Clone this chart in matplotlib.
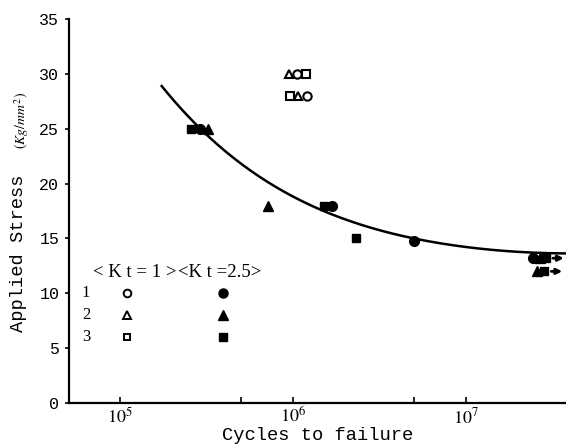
import numpy as np
import matplotlib
matplotlib.use("Agg")
import matplotlib.pyplot as plt
from matplotlib.ticker import FixedLocator, NullFormatter

plt.rcParams['mathtext.fontset'] = 'stix'

# Kt = 2.5 specimens (filled markers): 1 circle, 2 triangle, 3 square
k25_circle_cycles = [2.9e5, 1.69e6, 5.0e6, 2.45e7]
k25_circle_stress = [25.0, 18.0, 14.8, 13.2]
k25_tri_cycles = [3.23e5, 7.2e5, 2.68e7, 2.57e7]
k25_tri_stress = [25.0, 18.0, 13.2, 12.0]
k25_sq_cycles = [2.56e5, 1.5e6, 2.31e6, 2.89e7, 2.83e7]
k25_sq_stress = [25.0, 18.0, 15.0, 13.2, 12.0]

# Kt = 1 specimens (open markers)
k1_circle_cycles = [1.06e6, 1.20e6]
k1_circle_stress = [30.0, 28.0]
k1_tri_cycles = [9.5e5, 1.07e6]
k1_tri_stress = [30.0, 28.0]
k1_sq_cycles = [1.19e6, 9.6e5]
k1_sq_stress = [30.0, 28.0]

# run-outs (no failure)
runout_cycles = [2.89e7, 2.83e7]
runout_stress = [13.2, 12.0]

# S-N curve
curve_cycles = [1.74e5, 2.32e5, 2.9e5, 4.52e5, 7.05e5, 1.03e6, 1.50e6,
                2.33e6, 3.64e6, 4.95e6, 1.05e7, 1.64e7, 2.34e7, 3.78e7]
curve_stress = [29.07, 26.48, 24.86, 22.21, 20.38, 18.83, 17.80,
                16.12, 15.36, 14.90, 14.29, 13.99, 13.68, 13.60]

row_labels = ['1', '2', '3']
kt_labels = ['< K t = 1 >', '<K t =2.5>']


def main():
    fig = plt.figure(figsize=(5.66, 4.47), dpi=100)
    ax = fig.add_axes([0.122, 0.0984, 0.878, 0.8591])

    # smooth fit through the read-off curve (poly in log N)
    logn = np.log10(curve_cycles)
    fit = np.poly1d(np.polyfit(logn, curve_stress, 4))
    xs = np.linspace(logn[0], logn[-1], 200)
    ax.plot(10 ** xs, fit(xs), color='k', lw=1.8, zorder=2)

    ms = 7
    ax.plot(k25_circle_cycles, k25_circle_stress, 'o', color='k', ms=ms, zorder=3)
    ax.plot(k25_tri_cycles, k25_tri_stress, '^', color='k', ms=ms, zorder=3)
    ax.plot(k25_sq_cycles, k25_sq_stress, 's', color='k', ms=ms - 1, zorder=3)

    ax.plot(k1_circle_cycles, k1_circle_stress, 'o', mfc='white', mec='k', mew=1.5, ms=6, zorder=3)
    ax.plot(k1_tri_cycles, k1_tri_stress, '^', mfc='white', mec='k', mew=1.5, ms=6, zorder=3)
    ax.plot(k1_sq_cycles, k1_sq_stress, 's', mfc='white', mec='k', mew=1.5, ms=5.5, zorder=3)

    for x, y in zip(runout_cycles, runout_stress):
        ax.annotate('', xy=(x * 1.32, y), xytext=(x * 1.06, y),
                    arrowprops=dict(arrowstyle='-|>', color='k', lw=2, mutation_scale=8),
                    annotation_clip=False)

    # legend drawn inside the plot
    leg_y = [10, 8, 6]
    x_num, x_open, x_fill = 6.36e4, 1.1e5, 3.94e5
    for lab, y in zip(row_labels, leg_y):
        ax.text(x_num, y, lab, fontsize=12, family='Liberation Serif', ha='center', va='center')
    ax.plot([x_open], [leg_y[0]], 'o', mfc='white', mec='k', mew=1.4, ms=5.5)
    ax.plot([x_open], [leg_y[1]], '^', mfc='white', mec='k', mew=1.4, ms=5.5)
    ax.plot([x_open], [leg_y[2]], 's', mfc='white', mec='k', mew=1.4, ms=5)
    ax.plot([x_fill], [leg_y[0]], 'o', color='k', ms=6.5)
    ax.plot([x_fill], [leg_y[1]], '^', color='k', ms=6.5)
    ax.plot([x_fill], [leg_y[2]], 's', color='k', ms=6)
    ax.text(6.98e4, 11.9, kt_labels[0], fontsize=13.5, family='Liberation Serif', ha='left', va='center')
    ax.text(2.15e5, 11.9, kt_labels[1], fontsize=13.5, family='Liberation Serif', ha='left', va='center')

    ax.set_xscale('log')
    ax.set_xlim(10 ** 4.705, 10 ** 7.578)
    ax.set_ylim(0, 35)

    ax.xaxis.set_major_locator(FixedLocator([1e5, 1e6, 1e7]))
    ax.xaxis.set_minor_locator(FixedLocator([5e5, 5e6]))
    ax.xaxis.set_minor_formatter(NullFormatter())
    ax.set_xticklabels([r'$10^5$', r'$10^6$', r'$10^7$'], fontsize=13)
    ax.tick_params(axis='x', which='both', direction='in', length=4, width=1.2, pad=3)

    ax.set_yticks(np.arange(0, 36, 5))
    ax.set_yticklabels([str(v) for v in range(0, 36, 5)], family='Liberation Mono', fontsize=12)
    ax.tick_params(axis='y', direction='out', length=3, width=1.2, pad=4)

    for s in ['top', 'right']:
        ax.spines[s].set_visible(False)
    for s in ['left', 'bottom']:
        ax.spines[s].set_linewidth(1.6)

    ax.set_xlabel('Cycles to failure', family='Liberation Mono', fontsize=13.5, labelpad=0)
    ax.set_ylabel('Applied Stress', family='Liberation Mono', fontsize=13.5)
    ax.yaxis.set_label_coords(-0.085, 0.39)
    fig.text(0.039, 0.73, r'$(Kg/mm^2)$', rotation=90, fontsize=10, ha='center', va='center')

    fig.savefig('out.png', dpi=100)


main()
